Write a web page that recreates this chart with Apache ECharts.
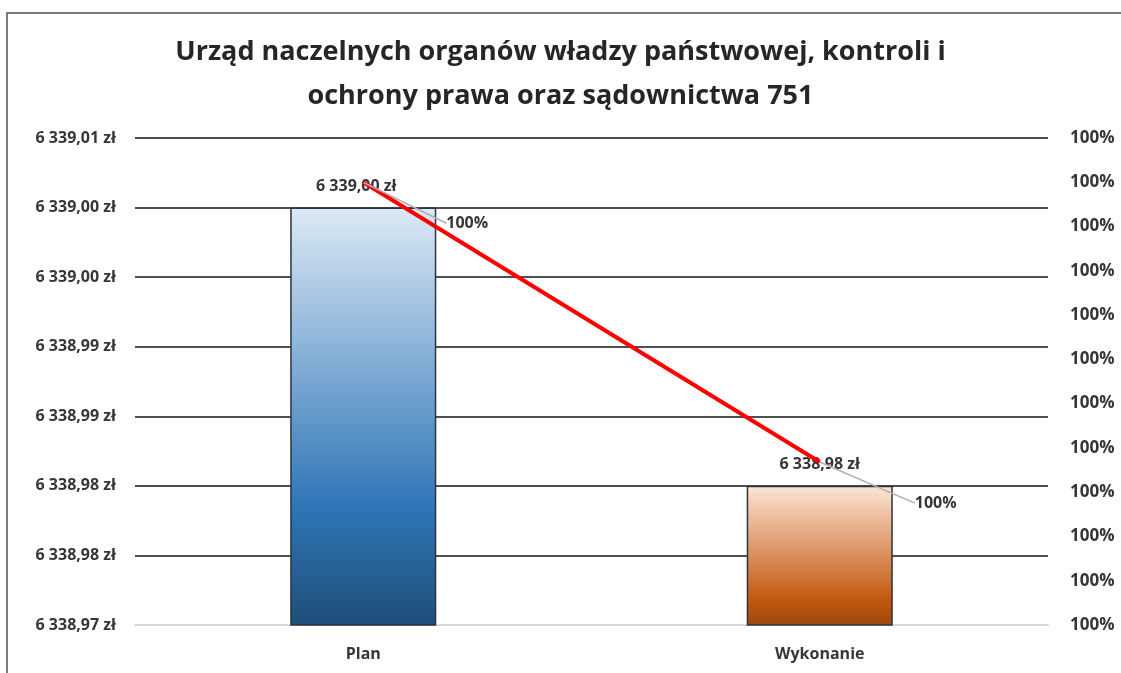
<!DOCTYPE html>
<html>
<head>
<meta charset="utf-8">
<script src="https://cdn.jsdelivr.net/npm/echarts@6/dist/echarts.min.js"></script>
<style>
html,body{margin:0;padding:0;background:#fff;}
#chart{width:1121px;height:673px;}
</style>
</head>
<body>
<div id="chart"></div>
<script>
// ---- data ----
var titleText = 'Urząd naczelnych organów władzy państwowej, kontroli i\nochrony prawa oraz sądownictwa 751';
var categories = ['Plan', 'Wykonanie'];
var amounts = [6339.00, 6338.98];
var ratios = [1.0, 0.99999684];
var ratioLabels = ['100%', '100%'];
var leftMin = 6338.97, leftMax = 6339.005, leftStep = 0.005;
var leftTickLabels = ['6 338,97 zł', '6 338,98 zł', '6 338,98 zł', '6 338,99 zł', '6 338,99 zł', '6 339,00 zł', '6 339,00 zł', '6 339,01 zł'];
var rightMin = 0.999995, rightMax = 1.0000005, rightStep = 0.0000005;
var rightTickLabels = ['100%', '100%', '100%', '100%', '100%', '100%', '100%', '100%', '100%', '100%', '100%', '100%'];

function fmtZl(v) {
  var s = v.toFixed(2).split('.');
  var intPart = s[0].replace(/\B(?=(\d{3})+(?!\d))/g, ' ');
  return intPart + ',' + s[1] + ' zł';
}

var FONT = '"Open Sans", Lato, sans-serif';
var TXT = '#363636';
var chart = echarts.init(document.getElementById('chart'), null, {renderer: 'canvas'});

var barColors = [
  new echarts.graphic.LinearGradient(0, 0, 0, 1, [
    {offset: 0, color: '#dce9f6'},
    {offset: 0.72, color: '#2e75b6'},
    {offset: 1, color: '#1f4e79'}
  ]),
  new echarts.graphic.LinearGradient(0, 0, 0, 1, [
    {offset: 0, color: '#fbe5d6'},
    {offset: 0.8, color: '#c55a11'},
    {offset: 1, color: '#9c470d'}
  ])
];

var labelShift = [[104, 41], [116, 41]];

chart.setOption({
  animation: false,
  backgroundColor: '#fff',
  title: {
    text: titleText,
    left: 'center',
    top: 25,
    textStyle: {fontFamily: FONT, fontSize: 27, fontWeight: 'bold', color: '#262626', lineHeight: 44}
  },
  graphic: [{
    type: 'polyline',
    shape: {points: [[7, 673], [7, 13], [1121, 13]]},
    style: {stroke: '#7a7a7a', lineWidth: 2, fill: null},
    silent: true
  }],
  grid: {left: 135, right: 73, top: 138, bottom: 48, containLabel: false},
  xAxis: {
    type: 'category',
    data: categories,
    axisLine: {show: true, lineStyle: {color: '#d9d9d9', width: 2}},
    axisTick: {show: false},
    axisLabel: {margin: 21, fontFamily: FONT, fontSize: 16, fontWeight: 'bold', color: TXT}
  },
  yAxis: [{
    type: 'value',
    min: leftMin, max: leftMax, interval: leftStep,
    axisLine: {show: false},
    axisTick: {show: false},
    splitLine: {show: true, lineStyle: {color: '#505050', width: 2}},
    axisLabel: {
      margin: 19, fontFamily: FONT, fontSize: 16, fontWeight: 'bold', color: TXT,
      showMinLabel: true, showMaxLabel: true,
      formatter: function (v) { return leftTickLabels[Math.round((v - leftMin) / leftStep)] || ''; }
    }
  }, {
    type: 'value',
    min: rightMin, max: rightMax, interval: rightStep,
    position: 'right',
    axisLine: {show: false},
    axisTick: {show: false},
    splitLine: {show: false},
    axisLabel: {
      margin: 22, fontFamily: FONT, fontSize: 17, fontWeight: 'bold', color: TXT,
      showMinLabel: true, showMaxLabel: true,
      formatter: function (v) { return rightTickLabels[Math.round((v - rightMin) / rightStep)] || ''; }
    }
  }],
  series: [{
    type: 'bar',
    data: amounts.map(function (v, i) {
      return {value: v, itemStyle: {color: barColors[i]}};
    }),
    barWidth: '32%',
    itemStyle: {borderColor: '#2b3440', borderWidth: 1.5},
    label: {
      show: true, position: 'top', distance: 13,
      fontFamily: FONT, fontSize: 16, fontWeight: 'bold', color: TXT,
      formatter: function (p) { return fmtZl(p.value); }
    },
    labelLayout: function (p) { return {dx: p.dataIndex === 0 ? -7 : 0}; },
    z: 2
  }, {
    type: 'line',
    yAxisIndex: 1,
    data: ratios,
    symbol: 'circle',
    symbolSize: 1,
    itemStyle: {color: '#ff0000'},
    lineStyle: {color: '#ff0000', width: 4},
    label: {
      show: true, position: 'inside',
      fontFamily: FONT, fontSize: 16, fontWeight: 'bold', color: TXT,
      formatter: function (p) { return ratioLabels[p.dataIndex]; }
    },
    labelLine: {show: true, lineStyle: {color: '#b0b0b0', width: 1.5}},
    labelLayout: function (p) {
      return {dx: labelShift[p.dataIndex][0], dy: labelShift[p.dataIndex][1]};
    },
    z: 3
  }]
});
</script>
</body>
</html>
